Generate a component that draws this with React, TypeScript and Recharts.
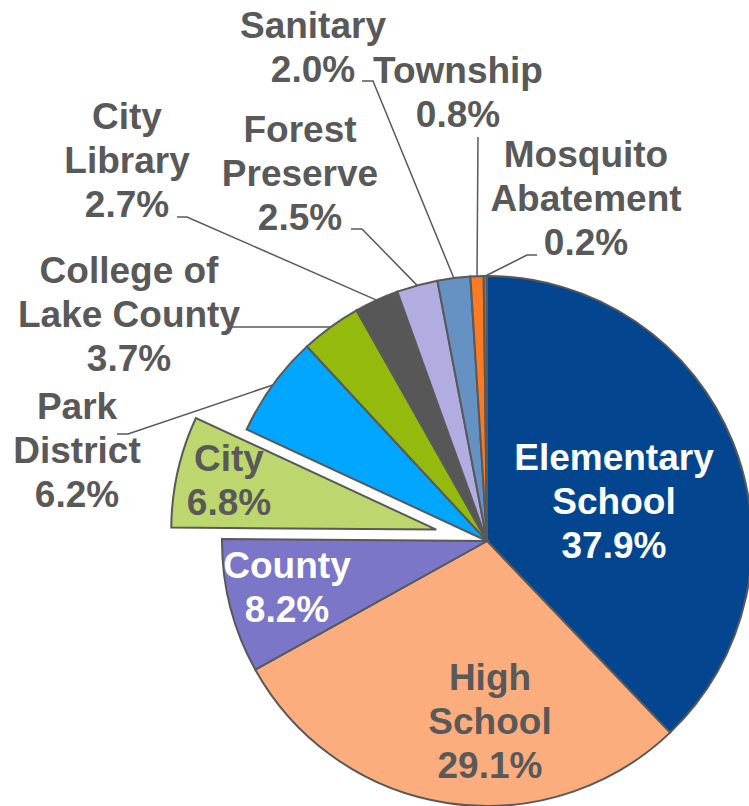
import React from "react";
import { PieChart, Pie, Cell } from "recharts";

// slices go clockwise from 12 o'clock
const categories = [
  "Elementary\nSchool",
  "High\nSchool",
  "County",
  "City",
  "Park\nDistrict",
  "College of\nLake County",
  "City\nLibrary",
  "Forest\nPreserve",
  "Sanitary",
  "Township",
  "Mosquito\nAbatement",
];
const shares = [37.9, 29.1, 8.2, 6.8, 6.2, 3.7, 2.7, 2.5, 2.0, 0.8, 0.2];
const explodedCategory = "City";

const COLORS = [
  "#03468f",
  "#fcad7e",
  "#7b76c8",
  "#bed66e",
  "#00a6ff",
  "#93ba0d",
  "#575757",
  "#b2ade0",
  "#6591c3",
  "#fb7a24",
  "#5a7fb5",
];

const data = categories.map((name, i) => ({ name, value: shares[i] }));

const CX = 487;
const CY = 541;
const R = 265;
const EXPLODE = 52;
const GRAY = "#595959";
const FONT = "'Liberation Sans', Arial, Helvetica, sans-serif";
const FONT_SIZE = 37;
const LINE_H = 44;
const RADIAN = Math.PI / 180;

// label blocks: centre x, first baseline y, colour, leader line points (label side first)
const LABELS: Record<string, { x: number; y: number; color?: string; line?: number[][] }> = {
  "Elementary\nSchool": { x: 614, y: 470, color: "#ffffff" },
  "High\nSchool": { x: 490, y: 690 },
  County: { x: 287, y: 578, color: "#ffffff" },
  City: { x: 229, y: 471 },
  "Park\nDistrict": { x: 77, y: 419, line: [[117, 434], [128, 434]] },
  "College of\nLake County": { x: 129, y: 283, line: [[228, 327]] },
  "City\nLibrary": { x: 127, y: 129, line: [[177, 217], [187, 217]] },
  "Forest\nPreserve": { x: 300, y: 142, line: [[351, 229], [362, 229]] },
  Sanitary: { x: 313, y: 38, line: [[362, 81], [373, 81]] },
  Township: { x: 458, y: 83, line: [[478, 137]] },
  "Mosquito\nAbatement": { x: 586, y: 167, line: [[537, 255], [527, 255]] },
};

// offset of the exploded slice along its mid angle
const total = shares.reduce((a, b) => a + b, 0);
const expIdx = categories.indexOf(explodedCategory);
const before = shares.slice(0, expIdx).reduce((a, b) => a + b, 0);
const expMid = 90 - ((before + shares[expIdx] / 2) / total) * 360;
const EX_DX = EXPLODE * Math.cos(expMid * RADIAN);
const EX_DY = -EXPLODE * Math.sin(expMid * RADIAN);

const renderLabel = (props: any) => {
  const { cx, cy, midAngle, outerRadius, name, value } = props;
  const cfg = LABELS[name];
  if (!cfg) return null;
  const lines = [...String(name).split("\n"), `${Number(value).toFixed(1)}%`];
  let leader = null;
  if (cfg.line) {
    const ax = cx + outerRadius * Math.cos(-midAngle * RADIAN);
    const ay = cy + outerRadius * Math.sin(-midAngle * RADIAN);
    const pts = [...cfg.line, [ax, ay]].map((p) => p.join(",")).join(" ");
    leader = <polyline points={pts} fill="none" stroke={GRAY} strokeWidth={1.5} />;
  }
  return (
    <g>
      {leader}
      <text
        x={cfg.x}
        y={cfg.y}
        textAnchor="middle"
        fill={cfg.color || GRAY}
        fontFamily={FONT}
        fontSize={FONT_SIZE}
        fontWeight="bold"
      >
        {lines.map((t, i) => (
          <tspan key={i} x={cfg.x} y={cfg.y + i * LINE_H}>
            {t}
          </tspan>
        ))}
      </text>
    </g>
  );
};

export default function App() {
  return (
    <div style={{ position: "absolute", left: 0, top: 0, width: 749, height: 806 }}>
      <PieChart width={749} height={806} margin={{ top: 0, right: 0, bottom: 0, left: 0 }}>
        {/* exploded slice only */}
        <Pie
          data={data}
          dataKey="value"
          nameKey="name"
          cx={CX + EX_DX}
          cy={CY + EX_DY}
          outerRadius={R}
          startAngle={90}
          endAngle={-270}
          isAnimationActive={false}
          label={false}
          labelLine={false}
        >
          {data.map((d, i) => (
            <Cell
              key={d.name}
              fill={d.name === explodedCategory ? COLORS[i] : "none"}
              stroke={d.name === explodedCategory ? GRAY : "none"}
              strokeWidth={2}
            />
          ))}
        </Pie>
        <Pie
          data={data}
          dataKey="value"
          nameKey="name"
          cx={CX}
          cy={CY}
          outerRadius={R}
          startAngle={90}
          endAngle={-270}
          isAnimationActive={false}
          label={renderLabel}
          labelLine={false}
        >
          {data.map((d, i) => (
            <Cell
              key={d.name}
              fill={d.name === explodedCategory ? "none" : COLORS[i]}
              stroke={d.name === explodedCategory ? "none" : GRAY}
              strokeWidth={2}
            />
          ))}
        </Pie>
      </PieChart>
    </div>
  );
}
